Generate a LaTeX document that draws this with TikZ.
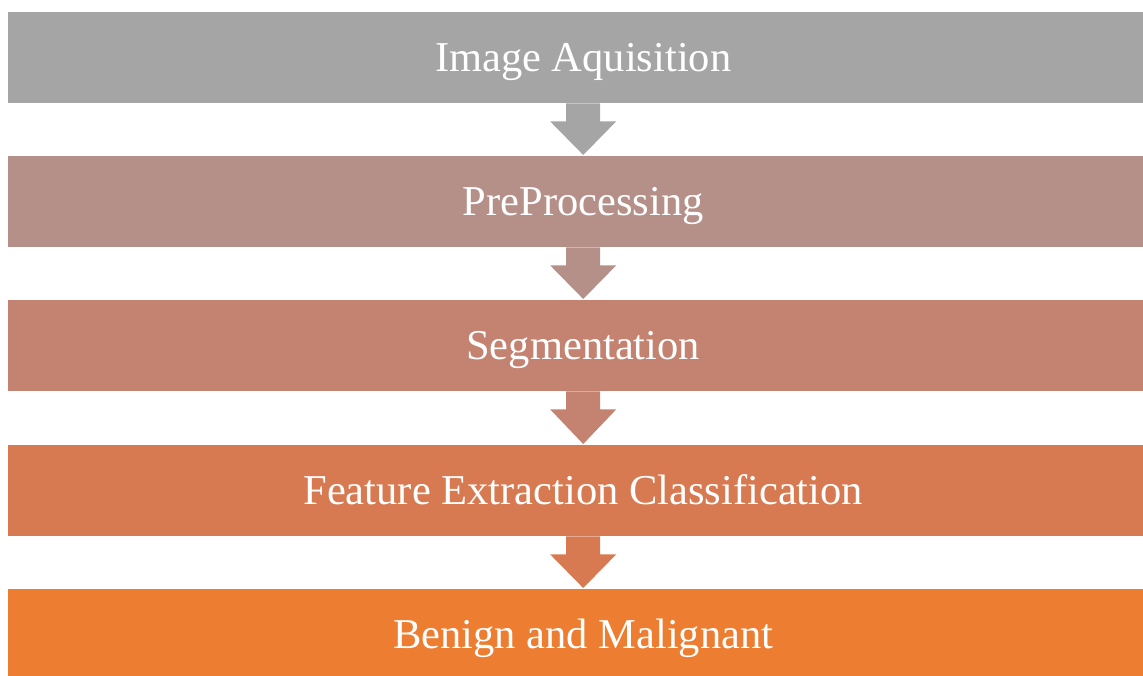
\documentclass[tikz,border=0pt]{standalone}
\usepackage{fontspec}
\setmainfont{Liberation Serif}
\usetikzlibrary{calc}
\definecolor{c1}{RGB}{165,165,165}
\definecolor{c2}{RGB}{180,144,136}
\definecolor{c3}{RGB}{196,130,112}
\definecolor{c4}{RGB}{216,122,81}
\definecolor{c5}{RGB}{237,125,49}
\tikzset{
  stage/.style={draw=none, fill=#1, minimum width=1150pt, minimum height=91pt, inner sep=0pt,
    text=white, font=\fontsize{42.5}{48}\selectfont, text height=32pt, text depth=4pt, anchor=north west},
  blockarrow/.style={fill=#1, draw=none}
}
\newcommand{\flowarrow}[3]{%
  \fill[blockarrow=#3] ($(#1.south)+(-17pt,0)$) -- ($(#1.south)+(17pt,0)$) -- ($(#1.south)+(17pt,-18pt)$)
    -- ($(#1.south)+(33pt,-18pt)$) -- ($(#2.north)+(0,1pt)$) -- ($(#1.south)+(-33pt,-18pt)$)
    -- ($(#1.south)+(-17pt,-18pt)$) -- cycle;}
\begin{document}
\begin{tikzpicture}[x=1pt,y=1pt]
\useasboundingbox (0,0) rectangle (1143,-675);
\clip (0,0) rectangle (1143,-675);
\node[stage=c1] (s1) at (8,-12) {Image Aquisition};
\node[stage=c2] (s2) at (8,-156) {PreProcessing};
\node[stage=c3] (s3) at (8,-300) {Segmentation};
\node[stage=c4] (s4) at (8,-445) {Feature Extraction Classification};
\node[stage=c5] (s5) at (8,-589) {Benign and Malignant};
\flowarrow{s1}{s2}{c1}
\flowarrow{s2}{s3}{c2}
\flowarrow{s3}{s4}{c3}
\flowarrow{s4}{s5}{c4}
\end{tikzpicture}
\end{document}
